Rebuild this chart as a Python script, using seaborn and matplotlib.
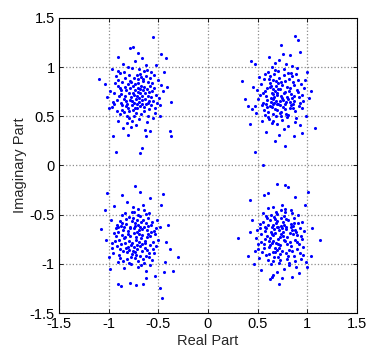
import seaborn as sns
import pandas as pd
import matplotlib.pyplot as plt

# received symbols (real, imag)
ul_pts = [
    (-0.70, 0.75), (-0.81, 0.62), (-0.65, 0.88), (-0.77, 0.70), (-0.59, 0.66), (-0.88, 0.79), (-0.72, 0.53), (-0.63, 0.74), (-0.84, 0.95), (-0.69, 0.69),
    (-0.75, 0.81), (-0.56, 0.84), (-0.92, 0.67), (-0.68, 0.60), (-0.79, 0.48), (-0.61, 0.97), (-0.73, 0.77), (-0.86, 0.56), (-0.66, 0.71), (-0.78, 0.86),
    (-0.52, 0.72), (-0.95, 0.74), (-0.71, 0.92), (-0.64, 0.55), (-0.83, 0.71), (-0.57, 0.61), (-0.74, 0.64), (-0.90, 0.87), (-0.67, 0.81), (-0.80, 0.58),
    (-0.62, 1.02), (-0.76, 0.45), (-0.54, 0.79), (-0.87, 0.64), (-0.70, 0.84), (-0.60, 0.50), (-0.82, 0.77), (-0.68, 0.93), (-0.97, 0.59), (-0.74, 0.72),
    (-0.49, 0.69), (-0.85, 1.03), (-0.66, 0.63), (-0.78, 0.67), (-0.58, 0.89), (-0.72, 0.41), (-0.91, 0.81), (-0.63, 0.68), (-0.76, 0.99), (-0.53, 0.58),
    (-0.80, 0.83), (-0.69, 0.47), (-0.88, 0.52), (-0.61, 0.78), (-0.75, 0.56), (-0.57, 0.95), (-0.84, 0.68), (-0.65, 0.86), (-0.99, 0.76), (-0.71, 0.63),
    (-0.47, 0.82), (-0.79, 0.92), (-0.67, 0.52), (-0.89, 0.71), (-0.60, 0.71), (-0.73, 1.06), (-0.55, 0.48), (-0.82, 0.60), (-0.70, 0.79), (-0.93, 0.91),
    (-0.64, 0.96), (-0.77, 0.39), (-0.51, 0.64), (-0.86, 0.85), (-0.68, 0.74), (-0.59, 0.57), (-0.81, 0.50), (-0.74, 0.89), (-0.96, 0.65), (-0.62, 0.62),
    (-0.45, 0.76), (-0.83, 0.80), (-0.71, 0.58), (-0.58, 0.81), (-0.76, 0.66), (-0.90, 0.45), (-0.66, 1.09), (-0.79, 0.74), (-0.54, 0.92), (-0.87, 0.73),
    (-0.69, 0.65), (-0.61, 0.44), (-0.94, 0.84), (-0.73, 0.83), (-0.57, 0.70), (-0.80, 1.00), (-0.65, 0.77), (-0.84, 0.54), (-0.50, 0.87), (-0.72, 0.68),
    (-1.10, 0.88), (-1.00, 0.58), (-0.93, 0.14), (-0.68, 0.13), (-0.66, 0.18), (-0.55, 1.31), (-0.47, 1.13), (-0.42, 1.09), (-0.37, 0.65), (-0.38, 0.35),
    (-0.37, 0.30), (-0.96, 0.30), (-0.78, 1.19), (-0.75, 1.20), (-0.62, 0.30), (-0.58, 0.35), (-0.90, 1.10), (-0.97, 0.98), (-0.48, 0.50), (-0.44, 0.95),
    (-0.85, 0.38), (-0.52, 1.02), (-1.02, 0.70), (-0.41, 0.80), (-0.70, 1.14), (-0.63, 0.36), (-0.92, 0.55), (-0.48, 0.61), (-0.80, 0.31), (-1.04, 0.83),
    (-0.74, 0.50), (-0.67, 0.90), (-0.86, 0.61), (-0.56, 0.76), (-0.78, 0.79), (-0.60, 0.85), (-0.71, 0.71), (-0.83, 0.89), (-0.64, 0.59), (-0.76, 0.61),
    (-0.69, 0.98), (-0.88, 0.94), (-0.55, 0.66), (-0.81, 0.43), (-0.73, 0.58), (-0.62, 0.91), (-0.95, 0.62), (-0.66, 0.67), (-0.77, 0.85), (-0.59, 0.75),
    (-0.82, 0.66), (-0.70, 0.88), (-0.53, 0.53), (-0.87, 0.77), (-0.64, 0.80), (-0.75, 0.74), (-0.91, 0.96), (-0.60, 0.64), (-0.79, 0.55), (-0.68, 0.78),
]

ur_pts = [
    (0.74, 0.71), (0.62, 0.80), (0.83, 0.58), (0.69, 0.66), (0.90, 0.77), (0.58, 0.63), (0.77, 0.92), (0.66, 0.52), (0.85, 0.69), (0.71, 0.84),
    (0.55, 0.74), (0.80, 0.49), (0.68, 0.97), (0.93, 0.64), (0.73, 0.61), (0.61, 0.88), (0.87, 0.82), (0.64, 0.43), (0.78, 0.75), (0.50, 0.68),
    (0.70, 0.56), (0.84, 0.94), (0.59, 0.59), (0.76, 0.67), (0.95, 0.72), (0.65, 0.78), (0.81, 0.40), (0.72, 0.89), (0.53, 0.83), (0.88, 0.55),
    (0.67, 0.70), (0.79, 1.03), (0.57, 0.51), (0.91, 0.87), (0.63, 0.65), (0.75, 0.46), (0.86, 0.63), (0.69, 0.81), (0.47, 0.60), (0.82, 0.76),
    (0.60, 0.95), (0.74, 0.54), (0.97, 0.79), (0.66, 0.73), (0.78, 0.86), (0.54, 0.45), (0.71, 0.62), (0.89, 0.48), (0.64, 1.00), (0.81, 0.68),
    (0.73, 0.78), (0.58, 0.71), (0.85, 0.91), (0.68, 0.57), (0.92, 0.60), (0.62, 0.84), (0.77, 0.37), (0.70, 0.74), (0.51, 0.90), (0.87, 0.71),
    (0.65, 0.62), (0.80, 0.80), (0.56, 0.56), (0.94, 0.83), (0.72, 1.07), (0.61, 0.47), (0.83, 0.65), (0.67, 0.93), (0.76, 0.59), (0.49, 0.77),
    (0.79, 0.52), (0.63, 0.69), (0.90, 0.99), (0.70, 0.42), (0.59, 0.79), (0.84, 0.73), (0.74, 0.85), (0.55, 0.64), (0.96, 0.66), (0.68, 0.76),
    (0.82, 0.88), (0.60, 0.54), (0.75, 0.69), (0.88, 0.44), (0.66, 0.87), (0.52, 0.72), (0.78, 0.63), (0.71, 0.96), (0.86, 0.58), (0.63, 0.81),
    (0.77, 0.74), (0.57, 0.93), (0.69, 0.50), (0.91, 0.75), (0.73, 0.66), (0.64, 0.59), (0.85, 1.01), (0.48, 0.53), (0.80, 0.70), (0.67, 0.64),
    (0.34, 0.86), (0.43, 1.06), (0.47, 1.03), (0.47, 0.14), (0.55, 0.00), (0.88, 1.32), (0.91, 1.28), (0.74, 1.22), (0.93, 1.15), (1.08, 0.38),
    (0.98, 0.87), (1.02, 0.69), (0.78, 0.20), (0.68, 0.25), (0.87, 0.30), (0.95, 0.33), (0.37, 0.68), (0.40, 0.60), (0.42, 0.42), (0.99, 0.50),
    (0.61, 1.10), (0.83, 1.12), (0.45, 0.80), (1.00, 0.95), (0.58, 0.34), (0.72, 0.31), (0.93, 0.41), (0.44, 0.57), (0.76, 1.13), (1.04, 0.76),
    (0.70, 0.72), (0.59, 0.67), (0.83, 0.79), (0.66, 0.45), (0.78, 0.57), (0.87, 0.66), (0.62, 0.91), (0.75, 0.82), (0.54, 0.61), (0.81, 0.51),
    (0.69, 0.86), (0.89, 0.93), (0.57, 0.76), (0.74, 0.50), (0.65, 0.68), (0.84, 0.61), (0.71, 0.78), (0.92, 0.70), (0.60, 0.49), (0.77, 0.98),
    (0.64, 0.74), (0.86, 0.85), (0.73, 0.53), (0.56, 0.88), (0.79, 0.65), (0.68, 1.04), (0.95, 0.58), (0.62, 0.60), (0.81, 0.94), (0.70, 0.63),
]

ll_pts = [
    (-0.71, -0.68), (-0.83, -0.79), (-0.62, -0.58), (-0.76, -0.90), (-0.58, -0.72), (-0.90, -0.63), (-0.68, -0.82), (-0.79, -0.52), (-0.65, -0.95), (-0.86, -0.71),
    (-0.73, -0.61), (-0.55, -0.85), (-0.94, -0.77), (-0.70, -0.50), (-0.81, -0.88), (-0.61, -0.66), (-0.77, -1.00), (-0.67, -0.74), (-0.88, -0.56), (-0.52, -0.64),
    (-0.74, -0.83), (-0.64, -0.45), (-0.85, -0.97), (-0.69, -0.70), (-0.97, -0.84), (-0.59, -0.93), (-0.78, -0.62), (-0.66, -0.87), (-0.83, -0.48), (-0.72, -0.76),
    (-0.56, -0.57), (-0.89, -0.91), (-0.75, -0.42), (-0.63, -0.79), (-0.80, -0.67), (-0.70, -1.03), (-0.92, -0.60), (-0.60, -0.53), (-0.77, -0.81), (-0.50, -0.76),
    (-0.68, -0.62), (-0.84, -0.74), (-0.73, -0.94), (-0.57, -0.68), (-0.95, -0.69), (-0.65, -0.40), (-0.79, -0.86), (-0.62, -1.07), (-0.87, -0.80), (-0.71, -0.55),
    (-0.54, -0.89), (-0.82, -0.59), (-0.69, -0.78), (-0.91, -0.98), (-0.66, -0.65), (-0.76, -0.47), (-0.58, -0.81), (-0.85, -0.66), (-0.72, -0.91), (-0.61, -0.73),
    (-0.78, -0.72), (-0.98, -0.55), (-0.64, -0.99), (-0.74, -0.64), (-0.53, -0.70), (-0.88, -0.85), (-0.70, -0.44), (-0.81, -0.95), (-0.60, -0.61), (-0.75, -0.87),
    (-0.67, -0.57), (-0.86, -0.50), (-0.56, -0.96), (-0.79, -0.77), (-0.93, -0.72), (-0.63, -0.84), (-0.73, -0.58), (-0.48, -0.62), (-0.84, -1.04), (-0.69, -0.66),
    (-0.77, -0.93), (-0.59, -0.48), (-0.90, -0.68), (-0.66, -0.80), (-0.82, -0.54), (-0.71, -0.85), (-0.55, -0.78), (-0.96, -0.89), (-0.64, -0.63), (-0.80, -0.83),
    (-0.74, -0.69), (-0.62, -0.92), (-0.87, -0.61), (-0.70, -0.97), (-0.51, -0.55), (-0.83, -0.73), (-0.68, -0.51), (-0.78, -0.64), (-0.58, -1.01), (-0.92, -0.82),
    (-1.02, -0.28), (-0.86, -0.30), (-0.73, -0.21), (-0.68, -0.27), (-0.45, -0.29), (-1.08, -0.65), (-0.30, -0.93), (-0.35, -1.07), (-0.48, -1.25), (-0.46, -1.35),
    (-0.90, -1.20), (-0.87, -1.22), (-0.78, -1.19), (-0.72, -1.21), (-0.65, -1.20), (-1.00, -0.93), (-0.43, -0.98), (-0.40, -0.60), (-0.47, -0.40), (-1.04, -0.45),
    (-0.99, -1.05), (-0.58, -0.33), (-0.42, -0.78), (-1.03, -0.76), (-0.62, -1.14), (-0.81, -0.37), (-0.44, -1.08), (-0.95, -0.41), (-0.53, -1.12), (-0.38, -0.85),
    (-0.72, -0.73), (-0.84, -0.63), (-0.61, -0.86), (-0.76, -0.56), (-0.66, -0.71), (-0.89, -0.76), (-0.57, -0.60), (-0.79, -0.99), (-0.70, -0.60), (-0.63, -0.77),
    (-0.85, -0.87), (-0.74, -0.47), (-0.59, -0.89), (-0.93, -0.64), (-0.68, -0.92), (-0.80, -0.70), (-0.54, -0.67), (-0.76, -0.79), (-0.65, -0.55), (-0.88, -0.94),
    (-0.71, -0.81), (-0.97, -0.79), (-0.60, -0.70), (-0.82, -0.84), (-0.67, -1.01), (-0.75, -0.53), (-0.52, -0.82), (-0.86, -0.58), (-0.73, -0.88), (-0.62, -0.49),
]

lr_pts = [
    (0.72, -0.66), (0.61, -0.77), (0.84, -0.59), (0.68, -0.88), (0.90, -0.71), (0.57, -0.62), (0.77, -0.51), (0.65, -0.97), (0.80, -0.80), (0.70, -0.56),
    (0.53, -0.70), (0.87, -0.92), (0.74, -0.45), (0.63, -0.68), (0.93, -0.64), (0.69, -0.79), (0.59, -0.53), (0.82, -1.01), (0.76, -0.72), (0.50, -0.85),
    (0.66, -0.60), (0.88, -0.76), (0.71, -0.93), (0.55, -0.48), (0.79, -0.65), (0.96, -0.83), (0.62, -0.74), (0.75, -0.40), (0.85, -0.87), (0.68, -0.69),
    (0.58, -0.91), (0.81, -0.55), (0.73, -0.81), (0.91, -0.50), (0.64, -0.63), (0.77, -1.05), (0.52, -0.59), (0.86, -0.70), (0.70, -0.86), (0.60, -0.43),
    (0.83, -0.78), (0.67, -0.52), (0.94, -0.95), (0.74, -0.61), (0.56, -0.80), (0.79, -0.89), (0.69, -0.47), (0.88, -0.66), (0.63, -1.00), (0.76, -0.57),
    (0.48, -0.74), (0.84, -0.62), (0.71, -0.75), (0.60, -0.96), (0.92, -0.80), (0.66, -0.71), (0.78, -0.44), (0.54, -0.88), (0.87, -0.58), (0.73, -0.90),
    (0.62, -0.55), (0.80, -0.73), (0.97, -0.67), (0.68, -0.84), (0.75, -0.64), (0.57, -0.67), (0.89, -1.03), (0.70, -0.49), (0.82, -0.86), (0.64, -0.79),
    (0.77, -0.60), (0.51, -0.94), (0.85, -0.48), (0.72, -0.99), (0.59, -0.72), (0.95, -0.75), (0.67, -0.65), (0.81, -0.92), (0.74, -0.53), (0.55, -0.57),
    (0.90, -0.85), (0.65, -0.42), (0.78, -0.77), (0.61, -0.83), (0.86, -0.61), (0.70, -1.08), (0.83, -0.69), (0.58, -0.64), (0.93, -0.89), (0.73, -0.73),
    (0.66, -0.88), (0.79, -0.54), (0.53, -0.78), (0.88, -0.97), (0.71, -0.62), (0.63, -0.50), (0.84, -0.82), (0.76, -0.68), (0.49, -0.66), (0.91, -0.58),
    (0.30, -0.74), (0.40, -0.92), (0.42, -0.35), (0.70, -0.19), (0.78, -0.20), (0.81, -0.22), (1.01, -0.27), (1.13, -0.76), (1.04, -0.92), (0.62, -1.15),
    (0.64, -1.13), (0.66, -1.11), (0.72, -1.20), (0.85, -1.13), (0.92, -1.09), (1.00, -1.03), (0.50, -0.80), (0.95, -0.57), (0.46, -1.00), (0.56, -0.30),
    (0.98, -0.40), (0.44, -0.55), (1.05, -0.64), (0.60, -0.28), (0.88, -0.32), (0.47, -0.87), (0.99, -0.98), (0.53, -1.06), (0.75, -1.14), (0.42, -0.68),
    (0.74, -0.70), (0.62, -0.81), (0.85, -0.66), (0.69, -0.58), (0.80, -0.95), (0.57, -0.75), (0.90, -0.78), (0.67, -0.93), (0.78, -0.47), (0.72, -0.84),
    (0.60, -0.60), (0.87, -0.53), (0.75, -0.87), (0.64, -0.70), (0.94, -0.72), (0.70, -0.63), (0.82, -0.99), (0.56, -0.84), (0.77, -0.76), (0.68, -0.54),
    (0.89, -0.68), (0.65, -0.77), (0.79, -0.62), (0.52, -0.64), (0.73, -0.96), (0.84, -0.45), (0.61, -0.90), (0.96, -0.91), (0.71, -0.80), (0.58, -0.51),
]

ticks = [-1.5, -1, -0.5, 0, 0.5, 1, 1.5]
tick_labels = ['-1.5', '-1', '-0.5', '0', '0.5', '1', '1.5']

df = pd.DataFrame(ul_pts + ur_pts + ll_pts + lr_pts, columns=['re', 'im'])

sns.set_style('ticks')
plt.rcParams['font.family'] = ['Liberation Sans', 'DejaVu Sans']

fig = plt.figure(figsize=(3.68, 3.51), dpi=100)
ax = fig.add_axes([0.160, 0.108, 0.810, 0.841])

sns.scatterplot(data=df, x='re', y='im', ax=ax, color='#0000ff', s=5,
                linewidth=0, marker='o', zorder=3)

ax.set_xlim(-1.5, 1.5)
ax.set_ylim(-1.5, 1.5)
ax.set_xticks(ticks)
ax.set_xticklabels(tick_labels)
ax.set_yticks(ticks)
ax.set_yticklabels(tick_labels)
ax.grid(True, linestyle=':', color='#8c8c8c', linewidth=0.9)
ax.tick_params(direction='in', top=True, right=True, length=3, width=0.6,
               labelsize=10.5, colors='black', pad=3)
for sp in ax.spines.values():
    sp.set_visible(True)
    sp.set_color('black')
    sp.set_linewidth(0.8)

ax.set_xlabel('Real Part', fontsize=10.5, labelpad=2)
ax.set_ylabel('Imaginary Part', fontsize=10.5, labelpad=2)

fig.savefig('out.png', dpi=100)
